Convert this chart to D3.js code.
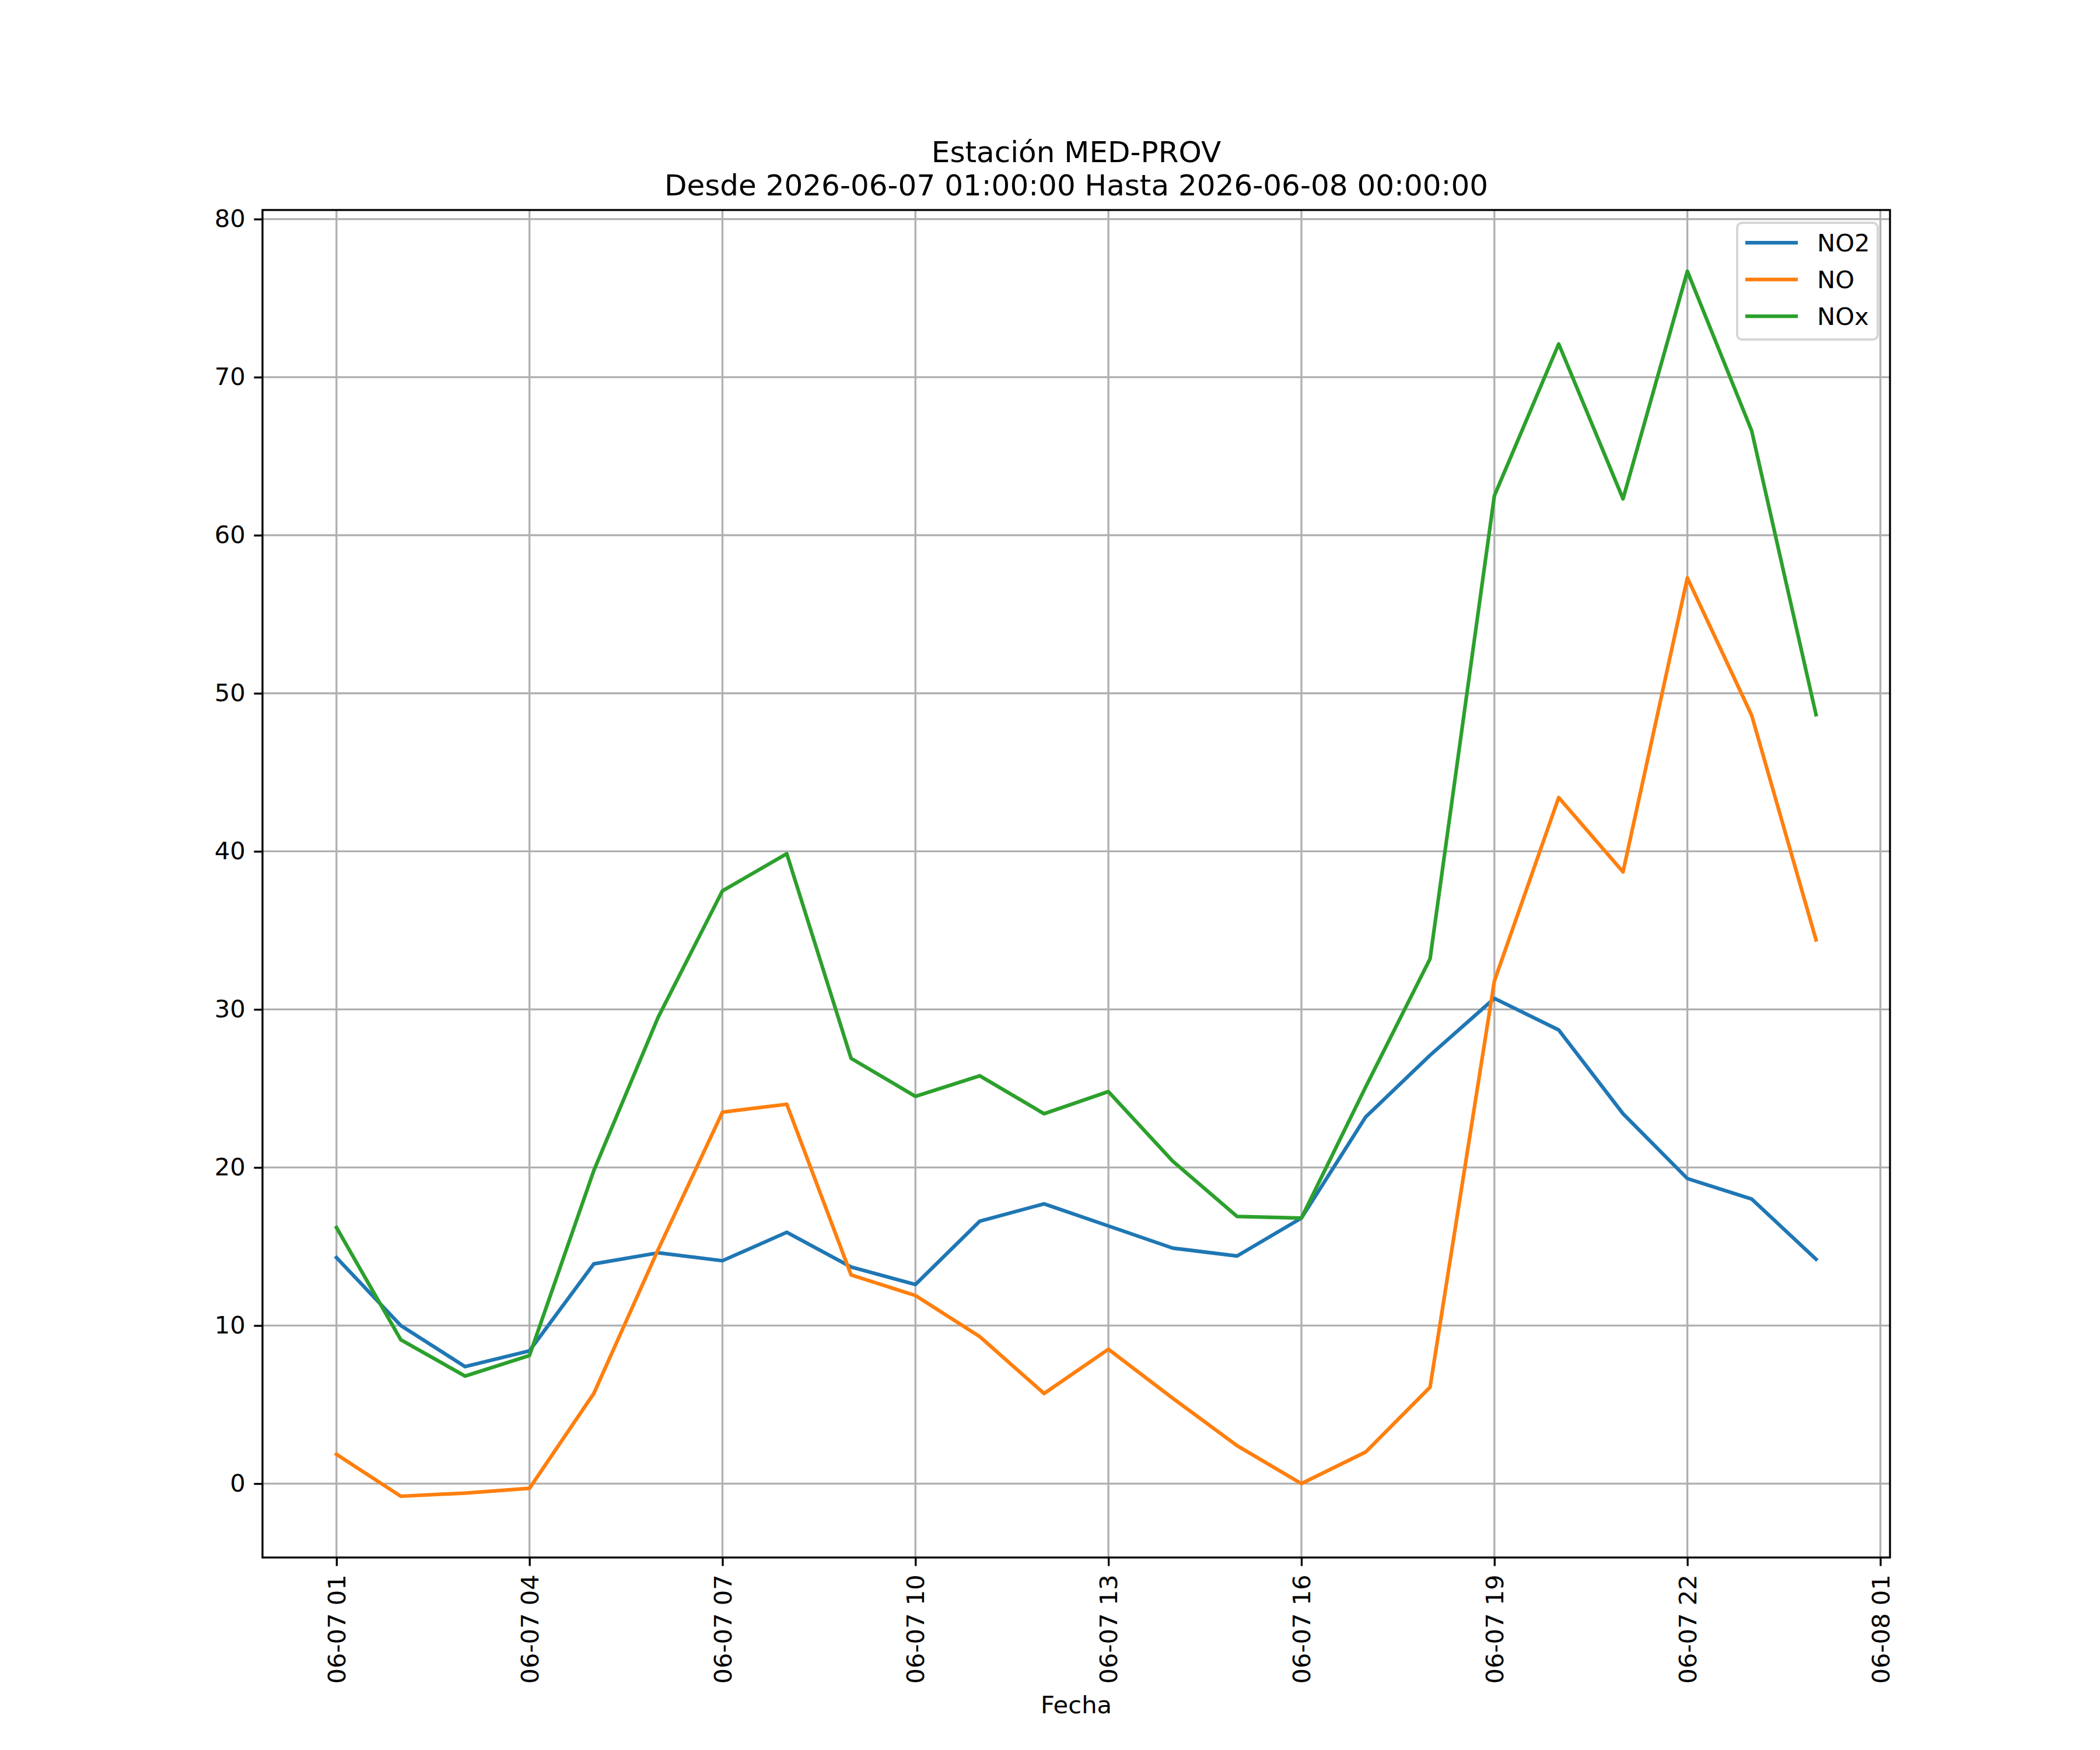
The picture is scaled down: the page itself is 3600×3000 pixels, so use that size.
<!DOCTYPE html>
<html>
<head>
<meta charset="utf-8">
<script src="https://cdn.jsdelivr.net/npm/d3@7"></script>
<style>
  body { margin: 0; background: #fff; }
  svg text { font-family: "DejaVu Sans", sans-serif; fill: #000; }
</style>
</head>
<body>
<div class="chart"></div>
<script>
// hourly readings, MED-PROV station
const times = [
	"2026-06-07 01:00", "2026-06-07 02:00", "2026-06-07 03:00", "2026-06-07 04:00",
	"2026-06-07 05:00", "2026-06-07 06:00", "2026-06-07 07:00", "2026-06-07 08:00",
	"2026-06-07 09:00", "2026-06-07 10:00", "2026-06-07 11:00", "2026-06-07 12:00",
	"2026-06-07 13:00", "2026-06-07 14:00", "2026-06-07 15:00", "2026-06-07 16:00",
	"2026-06-07 17:00", "2026-06-07 18:00", "2026-06-07 19:00", "2026-06-07 20:00",
	"2026-06-07 21:00", "2026-06-07 22:00", "2026-06-07 23:00", "2026-06-08 00:00"
];
const no2 = [14.3, 10.0, 7.4, 8.4, 13.9, 14.6, 14.1, 15.9, 13.7, 12.6, 16.6, 17.7,
	16.3, 14.9, 14.4, 16.8, 23.2, 27.1, 30.7, 28.7, 23.4, 19.3, 18.0, 14.2];
const no = [1.85, -0.8, -0.6, -0.3, 5.7, 14.8, 23.5, 24.0, 13.2, 11.9, 9.3, 5.7,
	8.5, 5.4, 2.4, 0.0, 2.0, 6.1, 31.8, 43.4, 38.7, 57.3, 48.6, 34.4];
const nox = [16.2, 9.1, 6.8, 8.1, 19.8, 29.5, 37.5, 39.85, 26.9, 24.5, 25.8, 23.4,
	24.8, 20.4, 16.9, 16.8, 25.1, 33.2, 62.5, 72.1, 62.3, 76.7, 66.6, 48.65];
const seriesNames = ["NO2", "NO", "NOx"];
const yTicks = [0, 10, 20, 30, 40, 50, 60, 70, 80];
const titleLines = ["Estación MED-PROV", "Desde 2026-06-07 01:00:00 Hasta 2026-06-08 00:00:00"];
const xLabel = "Fecha";

const width = 3600;
const height = 3000;
const margin = { left: 450, right: 3240, top: 360, bottom: 2670 };
const fs = 41.67;
const colors = ["#1f77b4", "#ff7f0e", "#2ca02c"];

const parse = d3.utcParse("%Y-%m-%d %H:%M");
const dates = times.map(parse);
const series = [no2, no, nox].map((vals, i) => ({
	name: seriesNames[i],
	color: colors[i],
	points: vals.map((v, j) => ({ t: dates[j], v: v }))
}));

const svg = d3.select(".chart")
	.append("svg")
	.attr("width", width)
	.attr("height", height);

// matplotlib style 5% margins
const t0 = dates[0], t1 = dates[dates.length - 1];
const span = t1 - t0;
const x = d3.scaleUtc()
	.domain([new Date(+t0 - span * 0.05), new Date(+t1 + span * 0.05)])
	.range([margin.left, margin.right]);

const all = no2.concat(no, nox);
const lo = d3.min(all), hi = d3.max(all);
const y = d3.scaleLinear()
	.domain([lo - (hi - lo) * 0.05, hi + (hi - lo) * 0.05])
	.range([margin.bottom, margin.top]);

const xTicks = d3.utcHour.range(t0, new Date(+t1 + 2 * 3600e3), 3);
const fmt = d3.utcFormat("%m-%d %H");

// grid
const grid = svg.append("g").attr("stroke", "#b0b0b0").attr("stroke-width", 3.33);
grid.selectAll(".gx")
	.data(xTicks).enter()
	.append("line")
		.attr("x1", (d) => x(d)).attr("x2", (d) => x(d))
		.attr("y1", margin.top).attr("y2", margin.bottom);
grid.selectAll(".gy")
	.data(yTicks).enter()
	.append("line")
		.attr("x1", margin.left).attr("x2", margin.right)
		.attr("y1", (d) => y(d)).attr("y2", (d) => y(d));

// lines
const line = d3.line()
	.x((d) => x(d.t))
	.y((d) => y(d.v));

svg.append("g")
	.selectAll("path")
		.data(series).enter()
	.append("path")
		.attr("d", (d) => line(d.points))
		.attr("fill", "none")
		.attr("stroke", (d) => d.color)
		.attr("stroke-width", 6.25)
		.attr("stroke-linejoin", "round")
		.attr("stroke-linecap", "square");

// axes
const xAxis = d3.axisBottom(x)
	.tickValues(xTicks)
	.tickFormat(fmt)
	.tickSize(14.6)
	.tickPadding(14.6);
const gx = svg.append("g")
	.attr("transform", `translate(0, ${margin.bottom})`)
	.call(xAxis);
gx.select(".domain").remove();
gx.selectAll(".tick line").attr("stroke", "#000").attr("stroke-width", 3.33);
gx.selectAll(".tick text")
	.attr("font-size", fs)
	.attr("font-family", "DejaVu Sans")
	.attr("text-anchor", "end")
	.attr("dy", "0.35em")
	.attr("x", 0)
	.attr("y", 0)
	.attr("transform", "translate(0, 29.2) rotate(-90)");

const yAxis = d3.axisLeft(y)
	.tickValues(yTicks)
	.tickSize(14.6)
	.tickPadding(14.6);
const gy = svg.append("g")
	.attr("transform", `translate(${margin.left}, 0)`)
	.call(yAxis);
gy.select(".domain").remove();
gy.selectAll(".tick line").attr("stroke", "#000").attr("stroke-width", 3.33);
gy.selectAll(".tick text")
	.attr("font-size", fs)
	.attr("font-family", "DejaVu Sans");

// frame
svg.append("rect")
	.attr("x", margin.left)
	.attr("y", margin.top)
	.attr("width", margin.right - margin.left)
	.attr("height", margin.bottom - margin.top)
	.attr("fill", "none")
	.attr("stroke", "#000")
	.attr("stroke-width", 3.33);

// titles
svg.append("g")
	.selectAll("text")
		.data(titleLines).enter()
	.append("text")
		.attr("x", (margin.left + margin.right) / 2)
		.attr("y", (d, i) => 278 + i * 57)
		.attr("text-anchor", "middle")
		.attr("font-size", 50)
		.text((d) => d);

svg.append("text")
	.attr("x", (margin.left + margin.right) / 2)
	.attr("y", 2937)
	.attr("text-anchor", "middle")
	.attr("font-size", fs)
	.text(xLabel);

// legend
const legend = svg.append("g").attr("transform", "translate(2978, 382)");
legend.append("rect")
	.attr("width", 241)
	.attr("height", 200)
	.attr("rx", 8)
	.attr("fill", "#fff")
	.attr("fill-opacity", 0.8)
	.attr("stroke", "#d6d6d6")
	.attr("stroke-width", 4);
const items = legend.selectAll(".item")
	.data(series).enter()
	.append("g")
		.attr("transform", (d, i) => `translate(0, ${34 + i * 63})`);
items.append("line")
	.attr("x1", 14).attr("x2", 104)
	.attr("stroke", (d) => d.color)
	.attr("stroke-width", 6.25);
items.append("text")
	.attr("x", 137)
	.attr("dy", "0.35em")
	.attr("font-size", fs)
	.text((d) => d.name);
</script>
</body>
</html>
